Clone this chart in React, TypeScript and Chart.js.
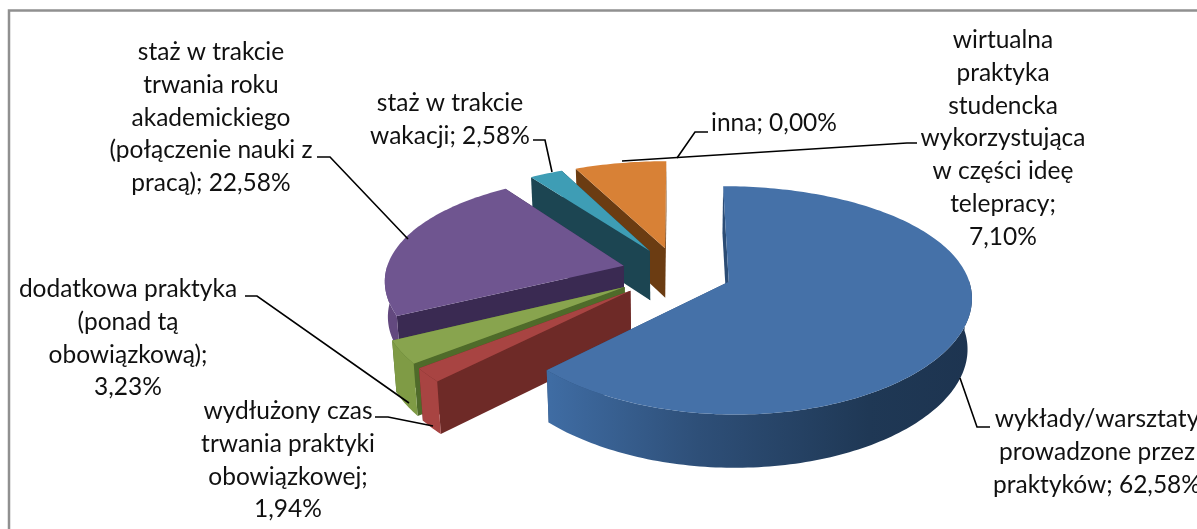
import React, { useEffect, useRef } from "react";
import { Chart, registerables } from "chart.js";

Chart.register(...registerables);

const categories = [
  "wykłady/warsztaty prowadzone przez praktyków",
  "wydłużony czas trwania praktyki obowiązkowej",
  "dodatkowa praktyka (ponad tą obowiązkową)",
  "staż w trakcie trwania roku akademickiego (połączenie nauki z pracą)",
  "staż w trakcie wakacji",
  "inna",
  "wirtualna praktyka studencka wykorzystująca w części ideę telepracy",
];
const values = [62.58, 1.94, 3.23, 22.58, 2.58, 0.0, 7.1];

const labelLines = [
  ["wykłady/warsztaty", "prowadzone przez", "praktyków; "],
  ["wydłużony czas", "trwania praktyki", "obowiązkowej;", ""],
  ["dodatkowa praktyka", "(ponad tą", "obowiązkową);", ""],
  ["staż w trakcie", "trwania roku", "akademickiego", "(połączenie nauki z", "pracą); "],
  ["staż w trakcie", "wakacji; "],
  ["inna; "],
  ["wirtualna", "praktyka", "studencka", "wykorzystująca", "w części ideę", "telepracy;", ""],
];

const topColors = ["#4571A8", "#A84442", "#88A44E", "#6F5590", "#3E9DB5", "#000000", "#D88136"];
const wallColors = ["#2B4C75", "#6E2A27", "#4F6B2A", "#3A2A52", "#1C4552", "#000000", "#6B3C12"];
const outerColors = ["", "#A84442", "#7F9B45", "#63497F", "#2A6A7A", "#000000", "#A5622A"];
const outerDropScale = [1, 1, 1, 0.7, 1, 1, 1];
const explodeRatios = [0.233, 0.255, 0.255, 0.233, 0.233, 0.233, 0.233];

const labelCenters: [number, number][] = [
  [1097, 419],
  [288, 411],
  [128, 289],
  [211, 52],
  [450, 103],
  [774, 123],
  [1003, 40],
];
const LINE_H = 32.8;
const leaders: [number, number][][] = [
  [[960, 378], [977, 427], [990, 427]],
  [[375, 417], [388, 417], [433, 426]],
  [[245, 296], [257, 296], [409, 403]],
  [[317, 157], [330, 157], [408, 239]],
  [[533, 140], [545, 140], [552, 172]],
  [[708, 132], [695, 132], [677, 158]],
  [[622, 161], [907, 143], [917, 143]],
];

const CX = 677, CY = 272, RX = 238, RY = 108, KX = 0.12, KY = 0.16;
const project = (X: number, Y: number, drop = 0) => {
  const sx = (RX * X) / (1 - KX * Y);
  const sy = (RY * Y) / (1 - KY * Y);
  const h = drop * (50 + 3 * Y);
  return [CX + sx * (1 - 0.015 * drop), CY + sy + h];
};

const pie3d = {
  id: "pie3d",
  beforeDatasetsDraw(chart: any) {
    const ctx = chart.ctx as CanvasRenderingContext2D;
    const arcs = chart.getDatasetMeta(0).data as any[];
    const order = [6, 4, 3, 2, 1, 0];
    for (const i of order) {
      const arc = arcs[i];
      const a0 = arc.startAngle, a1 = arc.endAngle;
      const mid = (a0 + a1) / 2;
      const ox = Math.cos(mid) * explodeRatios[i], oy = Math.sin(mid) * explodeRatios[i];
      const n = Math.max(4, Math.ceil((a1 - a0) / 0.02));
      const rim: [number, number][] = [];
      const front: [number, number][] = [];
      for (let k = 0; k <= n; k++) {
        const a = a0 + ((a1 - a0) * k) / n;
        const p: [number, number] = [ox + Math.cos(a), oy + Math.sin(a)];
        rim.push(p);
        if (Math.sin(a) > -0.02) front.push(p);
      }
      const poly = (pts: number[][], fill: any) => {
        ctx.beginPath();
        pts.forEach((p, j) => (j ? ctx.lineTo(p[0], p[1]) : ctx.moveTo(p[0], p[1])));
        ctx.closePath();
        ctx.fillStyle = fill;
        ctx.fill();
      };
      const first = rim[0], last = rim[rim.length - 1];
      poly([project(ox, oy), project(last[0], last[1]), project(last[0], last[1], 1), project(ox, oy, 1)], wallColors[i]);
      poly([project(ox, oy), project(first[0], first[1]), project(first[0], first[1], 1), project(ox, oy, 1)], wallColors[i]);
      if (front.length > 1) {
        let outer: any = outerColors[i];
        if (i === 0) {
          const g = ctx.createLinearGradient(550, 0, 975, 0);
          g.addColorStop(0, "#3F6CA3");
          g.addColorStop(0.35, "#2E4F78");
          g.addColorStop(0.75, "#1F3855");
          g.addColorStop(1, "#1D3450");
          outer = g;
        }
        const upper = front.map((p) => project(p[0], p[1]));
        const lower = front.map((p) => project(p[0], p[1], outerDropScale[i])).reverse();
        poly([...upper, ...lower], outer);
      }
      poly([project(ox, oy), ...rim.map((p) => project(p[0], p[1]))], topColors[i]);
    }
    return false;
  },
  afterDraw(chart: any) {
    const ctx = chart.ctx as CanvasRenderingContext2D;
    ctx.save();
    ctx.strokeStyle = "#909090";
    ctx.lineWidth = 2.5;
    ctx.strokeRect(9, 10.5, 1195, 525);
    ctx.strokeStyle = "#000";
    ctx.lineWidth = 1.6;
    leaders.forEach((l) => {
      ctx.beginPath();
      l.forEach((p, j) => (j ? ctx.lineTo(p[0], p[1]) : ctx.moveTo(p[0], p[1])));
      ctx.stroke();
    });
    ctx.fillStyle = "#111";
    ctx.font = "24.5px Lato";
    ctx.textAlign = "center";
    ctx.textBaseline = "middle";
    labelLines.forEach((lines, i) => {
      const txt = values[i].toFixed(2).replace(".", ",") + "%";
      lines.forEach((s, j) => {
        const line = j === lines.length - 1 ? s + txt : s;
        ctx.fillText(line, labelCenters[i][0], labelCenters[i][1] + j * LINE_H);
      });
    });
    ctx.restore();
  },
};

export default function App() {
  const ref = useRef<HTMLCanvasElement>(null);
  useEffect(() => {
    const chart = new Chart(ref.current!, {
      type: "pie",
      data: {
        labels: categories,
        datasets: [{ data: values, backgroundColor: topColors, offset: 40, borderWidth: 0 }],
      },
      options: {
        animation: false,
        responsive: false,
        events: [],
        plugins: { legend: { display: false }, tooltip: { enabled: false } },
      },
      plugins: [pie3d],
    });
    return () => chart.destroy();
  }, []);
  return (
    <canvas
      ref={ref}
      width={1197}
      height={529}
      style={{ position: "absolute", left: 0, top: 0, width: 1197, height: 529, background: "#fff", filter: "blur(0.4px)" }}
    />
  );
}
